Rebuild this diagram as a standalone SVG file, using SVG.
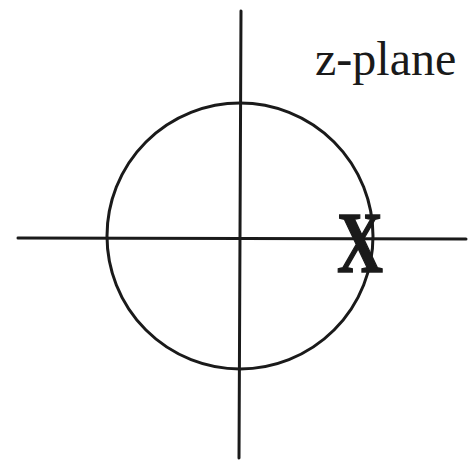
<svg xmlns="http://www.w3.org/2000/svg" width="469" height="465" viewBox="0 0 469 465">
<style>
.ax{stroke:#1a1a1a;stroke-width:3;fill:none;stroke-linecap:round}
.lbl{font-family:"Liberation Serif",serif;fill:#1a1a1a}
</style>
<rect width="469" height="465" fill="#ffffff"/>
<g id="connectors">
<line class="ax" x1="241" y1="11" x2="239" y2="458"/>
<line class="ax" x1="18" y1="238" x2="466" y2="239"/>
</g>
<g id="unit-circle">
<circle class="ax" cx="240" cy="236" r="133"/>
</g>
<g id="pole">
<text class="lbl" x="0" y="0" font-size="86" font-weight="bold" text-anchor="middle" stroke="#1a1a1a" stroke-width="1.5" transform="translate(360,272) scale(0.74,1)">X</text>
</g>
<g id="label">
<text class="lbl" x="315" y="75" font-size="48">z-plane</text>
</g>
</svg>
